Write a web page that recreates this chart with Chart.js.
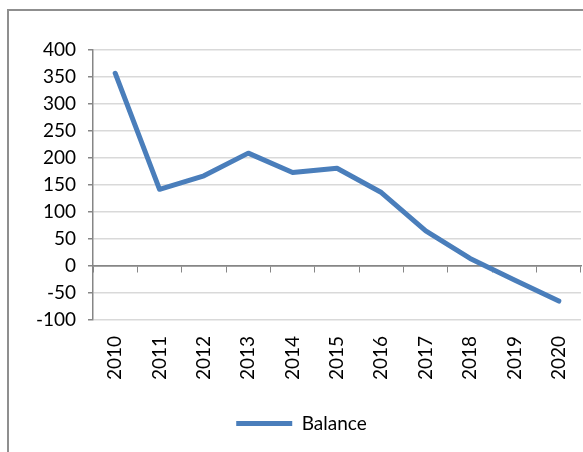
<!DOCTYPE html>
<html>
<head>
<meta charset="utf-8">
<script src="https://cdn.jsdelivr.net/npm/chart.js@4"></script>
<style>
  html, body { margin: 0; padding: 0; background: #ffffff; }
  #wrap { position: relative; width: 583px; height: 452px; }
  #frame { position: absolute; left: 7px; top: 9px; width: 590px; height: 460px;
           border-top: 2px solid #8f8f8f; border-left: 2px solid #8f8f8f; box-sizing: border-box; }
  canvas { position: absolute; left: 0; top: 0; }
</style>
</head>
<body>
<div id="wrap">
  <div id="frame"></div>
  <canvas id="c" width="583" height="452"></canvas>
</div>
<script>
const categories = ['2010','2011','2012','2013','2014','2015','2016','2017','2018','2019','2020'];
const balance = [357, 142, 167, 209, 173, 181, 136, 65, 14, -26, -65];
const yMin = -100, yMax = 400, yStep = 50;

const FONT = { family: 'Lato', size: 19 };
const AXIS = '#868686';
const GRID = '#d9d9d9';
const BLUE = '#4a7ebb';

new Chart(document.getElementById('c'), {
  type: 'line',
  data: {
    labels: categories,
    datasets: [{
      label: 'Balance',
      data: balance,
      borderColor: BLUE,
      backgroundColor: BLUE,
      borderWidth: 5,
      borderCapStyle: 'round',
      borderJoinStyle: 'round',
      pointRadius: 0,
      tension: 0,
      xAxisID: 'x',
      yAxisID: 'y'
    }]
  },
  options: {
    responsive: false,
    animation: false,
    layout: { padding: { left: 22, right: 2, top: 50, bottom: 9 } },
    plugins: {
      tooltip: { enabled: false },
      legend: {
        position: 'bottom',
        labels: {
          usePointStyle: true,
          pointStyle: 'line',
          pointStyleWidth: 56,
          padding: 10,
          color: '#000',
          font: FONT
        }
      }
    },
    scales: {
      x: {
        type: 'category',
        offset: true,
        grid: { display: false, drawTicks: false },
        border: { display: false },
        ticks: { color: '#000', font: FONT, minRotation: 90, maxRotation: 90, autoSkip: false, padding: 16 },
        afterFit(s) { s.height = 84; s.paddingLeft = 0; s.paddingRight = 0; }
      },
      x2: {
        type: 'category',
        labels: categories,
        position: { y: 0 },
        offset: true,
        grid: { offset: true, drawOnChartArea: false, drawTicks: true, tickLength: 6, color: AXIS },
        border: { display: true, color: AXIS, width: 1.5 },
        ticks: { display: false }
      },
      y: {
        min: yMin, max: yMax,
        ticks: { stepSize: yStep, color: '#000', font: FONT, padding: 12 },
        grid: {
          color: (c) => (c.tick && c.tick.value === 0 ? AXIS : GRID),
          lineWidth: 1.5,
          tickColor: AXIS,
          tickLength: 5
        },
        border: { display: true, color: AXIS, width: 1.5 },
        afterFit(s) { s.width = 71; }
      }
    }
  }
});
</script>
</body>
</html>
